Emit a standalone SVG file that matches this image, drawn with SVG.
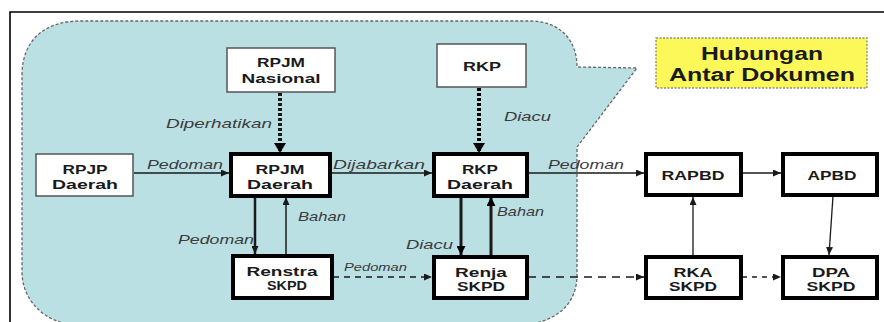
<svg xmlns="http://www.w3.org/2000/svg" width="884" height="322" viewBox="0 0 884 322">
<defs>
<style>
.bt{font-family:"Liberation Sans",Arial,sans-serif;font-weight:bold;font-size:13px;fill:#1a1a1a;text-anchor:middle}
.lb{font-family:"Liberation Sans",Arial,sans-serif;font-style:italic;font-size:13px;fill:#3c3c3c}
.thin{fill:#fff;stroke:#555;stroke-width:1.5}
.thick{fill:#fff;stroke:#000;stroke-width:4}
.c{fill:none;stroke:#1a1a1a;stroke-width:1.3}
</style>
<marker id="ah" markerUnits="userSpaceOnUse" markerWidth="8" markerHeight="7" refX="8" refY="3.5" orient="auto"><path d="M0,0 L8,3.5 L0,7 z" fill="#1a1a1a"/></marker>
<marker id="ahb" markerUnits="userSpaceOnUse" markerWidth="10" markerHeight="9" refX="9" refY="4.5" orient="auto"><path d="M0,0 L9,4.5 L0,9 z" fill="#000"/></marker>
<marker id="ahd" markerUnits="userSpaceOnUse" markerWidth="10" markerHeight="12" refX="10" refY="6" orient="auto"><path d="M0,0 L10,6 L0,12 z" fill="#000"/></marker>
</defs>
<rect width="884" height="322" fill="#fff"/>
<path d="M10,322 L10,12 L884,12" fill="none" stroke="#000" stroke-width="1.6"/>
<path id="callout" d="M22,75 C22,40 45,21 80,21 L530,21 C560,21 577,40 577,67 L637,68 L577,147 L577,275 C577,305 555,325 515,325 L80,325 C45,325 22,300 22,272 Z" fill="#bbe0e4" stroke="#666" stroke-width="1.3" stroke-dasharray="3 2"/>

<g id="connectors">
<line class="c" x1="280" y1="93" x2="280" y2="153" stroke="#000" style="stroke-width:4;stroke-dasharray:3 2" marker-end="url(#ahd)"/>
<line class="c" x1="479" y1="88" x2="479" y2="153" style="stroke:#000;stroke-width:4;stroke-dasharray:3 2" marker-end="url(#ahd)"/>
<line class="c" x1="134" y1="173" x2="229" y2="173" marker-end="url(#ah)"/>
<line class="c" x1="331" y1="173" x2="432" y2="173" marker-end="url(#ah)"/>
<line class="c" x1="528" y1="173" x2="644" y2="173" marker-end="url(#ah)"/>
<line class="c" x1="742" y1="173" x2="781" y2="173" marker-end="url(#ah)"/>
<line class="c" x1="833" y1="196" x2="829" y2="255" marker-end="url(#ah)"/>
<line class="c" x1="693" y1="255" x2="693" y2="197" marker-end="url(#ah)"/>
<line class="c" x1="255" y1="197" x2="255" y2="254" style="stroke-width:2.5" marker-end="url(#ah)"/>
<line class="c" x1="286" y1="254" x2="286" y2="197" style="stroke-width:1.5" marker-end="url(#ah)"/>
<line class="c" x1="461" y1="197" x2="461" y2="255" style="stroke-width:3" marker-end="url(#ahb)"/>
<line class="c" x1="491" y1="255" x2="491" y2="197" style="stroke-width:3" marker-end="url(#ahb)"/>
<line class="c" x1="333" y1="277" x2="432" y2="277" style="stroke-width:1.5;stroke-dasharray:6 5" marker-end="url(#ah)"/>
<line class="c" x1="528" y1="277" x2="644" y2="277" style="stroke-width:1.5;stroke-dasharray:8 6" marker-end="url(#ah)"/>
<line class="c" x1="742" y1="277" x2="781" y2="277" style="stroke-width:1.5;stroke-dasharray:5 5" marker-end="url(#ah)"/>
</g>

<g id="labels">
<text class="lb" x="166" y="128" textLength="106" lengthAdjust="spacingAndGlyphs">Diperhatikan</text>
<text class="lb" x="504" y="121" textLength="47" lengthAdjust="spacingAndGlyphs">Diacu</text>
<text class="lb" x="147" y="169" textLength="76" lengthAdjust="spacingAndGlyphs">Pedoman</text>
<text class="lb" x="333" y="169" textLength="92" lengthAdjust="spacingAndGlyphs">Dijabarkan</text>
<text class="lb" x="548" y="169" textLength="76" lengthAdjust="spacingAndGlyphs">Pedoman</text>
<text class="lb" x="298" y="221" textLength="48" lengthAdjust="spacingAndGlyphs">Bahan</text>
<text class="lb" x="178" y="244" textLength="76" lengthAdjust="spacingAndGlyphs">Pedoman</text>
<text class="lb" x="497" y="216" textLength="47" lengthAdjust="spacingAndGlyphs">Bahan</text>
<text class="lb" x="406" y="249" textLength="47" lengthAdjust="spacingAndGlyphs">Diacu</text>
<text class="lb" x="344" y="271" style="font-size:11px" textLength="63" lengthAdjust="spacingAndGlyphs">Pedoman</text>
</g>

<g id="title">
<rect x="656" y="38" width="211" height="50" fill="#fcf85a" stroke="#888" stroke-width="1.3" stroke-dasharray="2 1.5"/>
<text class="bt" x="762" y="60" style="font-size:18px" textLength="122" lengthAdjust="spacingAndGlyphs">Hubungan</text>
<text class="bt" x="762" y="81" style="font-size:18px" textLength="186" lengthAdjust="spacingAndGlyphs">Antar Dokumen</text>
</g>

<g id="rpjm-nasional">
<rect class="thin" x="227" y="48" width="108" height="44"/>
<text class="bt" x="281" y="67" textLength="48" lengthAdjust="spacingAndGlyphs">RPJM</text>
<text class="bt" x="281" y="83" textLength="79" lengthAdjust="spacingAndGlyphs">Nasional</text>
</g>
<g id="rkp">
<rect class="thin" x="437" y="44" width="89" height="43"/>
<text class="bt" x="482" y="71" textLength="38" lengthAdjust="spacingAndGlyphs">RKP</text>
</g>
<g id="rpjp-daerah">
<rect class="thin" x="36" y="154" width="97" height="42"/>
<text class="bt" x="85" y="174" textLength="45" lengthAdjust="spacingAndGlyphs">RPJP</text>
<text class="bt" x="85" y="189" textLength="66" lengthAdjust="spacingAndGlyphs">Daerah</text>
</g>
<g id="rpjm-daerah">
<rect class="thick" x="231" y="154" width="99" height="42"/>
<text class="bt" x="280" y="174" textLength="49" lengthAdjust="spacingAndGlyphs">RPJM</text>
<text class="bt" x="280" y="189" textLength="66" lengthAdjust="spacingAndGlyphs">Daerah</text>
</g>
<g id="rkp-daerah">
<rect class="thick" x="434" y="154" width="93" height="42"/>
<text class="bt" x="480" y="174" textLength="36" lengthAdjust="spacingAndGlyphs">RKP</text>
<text class="bt" x="480" y="189" textLength="66" lengthAdjust="spacingAndGlyphs">Daerah</text>
</g>
<g id="rapbd">
<rect class="thick" x="646" y="154" width="95" height="41"/>
<text class="bt" x="693" y="180" textLength="63" lengthAdjust="spacingAndGlyphs">RAPBD</text>
</g>
<g id="apbd">
<rect class="thick" x="783" y="154" width="94" height="41"/>
<text class="bt" x="832" y="180" textLength="49" lengthAdjust="spacingAndGlyphs">APBD</text>
</g>
<g id="renstra-skpd">
<rect class="thick" x="233" y="256" width="99" height="42"/>
<text class="bt" x="282" y="276" textLength="71" lengthAdjust="spacingAndGlyphs">Renstra</text>
<text class="bt" x="287" y="290" textLength="40" lengthAdjust="spacingAndGlyphs">SKPD</text>
</g>
<g id="renja-skpd">
<rect class="thick" x="434" y="257" width="93" height="41"/>
<text class="bt" x="481" y="277" textLength="52" lengthAdjust="spacingAndGlyphs">Renja</text>
<text class="bt" x="481" y="291" textLength="48" lengthAdjust="spacingAndGlyphs">SKPD</text>
</g>
<g id="rka-skpd">
<rect class="thick" x="646" y="257" width="95" height="41"/>
<text class="bt" x="693" y="277" textLength="39" lengthAdjust="spacingAndGlyphs">RKA</text>
<text class="bt" x="693" y="291" textLength="48" lengthAdjust="spacingAndGlyphs">SKPD</text>
</g>
<g id="dpa-skpd">
<rect class="thick" x="783" y="257" width="94" height="41"/>
<text class="bt" x="831" y="277" textLength="38" lengthAdjust="spacingAndGlyphs">DPA</text>
<text class="bt" x="831" y="291" textLength="49" lengthAdjust="spacingAndGlyphs">SKPD</text>
</g>
</svg>
